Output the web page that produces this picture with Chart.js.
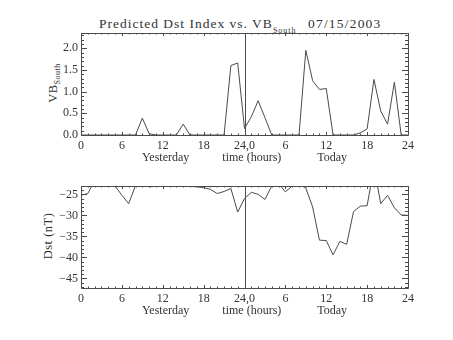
<!DOCTYPE html>
<html>
<head>
<meta charset="utf-8">
<script src="https://cdn.jsdelivr.net/npm/chart.js@4/dist/chart.umd.min.js"></script>
<style>
  body { margin: 0; background: #fff; }
  #wrap { position: relative; width: 453px; height: 340px; font-family: "Liberation Serif", serif; color: #333; }
  canvas { position: absolute; left: 0; }
  .lbl { position: absolute; white-space: nowrap; font-weight: normal; }
  .rot { transform: translate(-50%, -50%) rotate(-90deg); font-size: 12.5px; letter-spacing: 0.5px; }
  sub { font-size: 8px; }
</style>
</head>
<body>
<div id="wrap">
  <div class="lbl" style="left:99px; top:16px; font-size:13.5px; letter-spacing:1px;">Predicted Dst Index vs. VB<sub style="position:relative; top:1px;">South</sub></div>
  <div class="lbl" style="left:308px; top:16px; font-size:13.5px; letter-spacing:1.2px;">07/15/2003</div>
  <div class="lbl rot" style="left:54px; top:83px;">VB<sub>South</sub></div>
  <div class="lbl rot" style="left:48px; top:236px;">Dst (nT)</div>
  <canvas id="graficoVB" width="453" height="170" style="top:0"></canvas>
  <canvas id="graficoDst" width="453" height="170" style="top:153px"></canvas>
</div>
<script>
// horas: 0-24 ontem, 24-48 hoje
const horas = [0,1,2,3,4,5,6,7,8,9,10,11,12,13,14,15,16,17,18,19,20,21,22,23,24,
  25,26,27,28,29,30,31,32,33,34,35,36,37,38,39,40,41,42,43,44,45,46,47,48];

const vbSouth = [0,0,0,0,0,0,0,0,0,0.39,0.03,0,0,0,0,0.25,0,0,0,0,0,0,1.60,1.66,0.15,
  0.42,0.79,0.40,0,0,0,0,0,1.95,1.25,1.05,1.07,0,0,0,0,0.05,0.14,1.28,0.55,0.25,1.22,0,0];

const dst = [-25.2,-24.8,-21.7,-21.5,-22.0,-23.0,-25.2,-27.2,-22.9,-22.6,-23.2,-23.1,-22.8,
  -22.7,-22.8,-22.9,-23.1,-23.2,-23.4,-23.8,-24.8,-24.3,-23.6,-29.2,-26.0,
  -24.5,-25.0,-26.2,-23.0,-22.4,-24.4,-23.0,-22.6,-23.5,-28.0,-35.9,-36.0,-39.4,-36.2,
  -36.9,-29.1,-27.8,-27.7,-18.5,-27.2,-25.2,-28.2,-29.9,-30.0];

const tickX = [0, 6, 12, 18, "24,0", 6, 12, 18, 24];
const tituloX = "Yesterday           time (hours)            Today";

const corLinha = "#4a4a4a";
const fonte = { family: "Liberation Serif", size: 12 };

// moldura estilo IDL: caixa + marcas para dentro + linha da meia-noite
const moldura = {
  id: "moldura",
  afterDatasetsDraw(chart, args, opts) {
    const { ctx, chartArea: a, scales } = chart;
    const x = scales.x, y = scales.y;
    ctx.save();
    ctx.strokeStyle = corLinha;
    ctx.lineWidth = 1;
    ctx.beginPath();
    ctx.rect(Math.round(a.left) + 0.5, Math.round(a.top) + 0.5,
      Math.round(a.right - a.left), Math.round(a.bottom - a.top));
    // marcas em x
    for (let v = x.min; v <= x.max; v += 1) {
      const px = Math.round(x.getPixelForValue(v)) + 0.5;
      const len = v % 6 === 0 ? 3 : 1.5;
      ctx.moveTo(px, a.bottom); ctx.lineTo(px, a.bottom - len);
      ctx.moveTo(px, a.top); ctx.lineTo(px, a.top + len);
    }
    // marcas em y
    const passo = opts.minorStep;
    const maior = opts.majorStep;
    const inicio = Math.ceil(y.min / passo - 1e-6) * passo;
    for (let v = inicio; v <= y.max + 1e-6; v += passo) {
      const py = Math.round(y.getPixelForValue(v)) + 0.5;
      const r = v / maior;
      const len = Math.abs(r - Math.round(r)) < 1e-6 ? 6 : 3;
      ctx.moveTo(a.left, py); ctx.lineTo(a.left + len, py);
      ctx.moveTo(a.right, py); ctx.lineTo(a.right - len, py);
    }
    // divisao ontem / hoje
    const mx = Math.round(x.getPixelForValue(24)) + 0.5;
    ctx.moveTo(mx, a.top); ctx.lineTo(mx, a.bottom);
    ctx.stroke();
    ctx.restore();
  },
};

function criarGrafico(id, valores, yMin, yMax, yStep, minorStep, fmt) {
  const ctx = document.getElementById(id).getContext("2d");
  return new Chart(ctx, {
    type: "line",
    data: {
      labels: horas,
      datasets: [{
        data: horas.map((h, i) => ({ x: h, y: valores[i] })),
        borderColor: corLinha,
        borderWidth: 1,
        pointRadius: 0,
        tension: 0,
      }],
    },
    options: {
      responsive: false,
      animation: false,
      devicePixelRatio: 1,
      layout: { padding: { top: 33, right: 45, left: 0, bottom: 0 } },
      plugins: {
        legend: { display: false },
        tooltip: { enabled: false },
        moldura: { minorStep: minorStep, majorStep: yStep },
      },
      scales: {
        x: {
          type: "linear",
          min: 0,
          max: 48,
          grid: { display: false, drawTicks: false },
          border: { display: false },
          ticks: {
            stepSize: 6,
            padding: 4,
            maxRotation: 0,
            color: "#333",
            font: fonte,
            callback: (v) => tickX[v / 6],
          },
          title: {
            display: true,
            text: tituloX,
            color: "#333",
            font: fonte,
            padding: { top: 0, bottom: 5 },
          },
          afterFit: (s) => { s.height = 35; },
        },
        y: {
          min: yMin,
          max: yMax,
          grid: { display: false, drawTicks: false },
          border: { display: false },
          ticks: {
            stepSize: yStep,
            includeBounds: false,
            padding: 3,
            color: "#333",
            font: fonte,
            callback: fmt,
          },
          afterFit: (s) => { s.width = 81; },
        },
      },
    },
    plugins: [moldura],
  });
}

document.addEventListener("DOMContentLoaded", () => {
  criarGrafico("graficoVB", vbSouth, 0, 2.35, 0.5, 0.1, (v) => v.toFixed(1));
  criarGrafico("graficoDst", dst, -47.3, -23, 5, 1, (v) => String(v).replace("-", "\u2212"));
});
</script>
</body>
</html>
